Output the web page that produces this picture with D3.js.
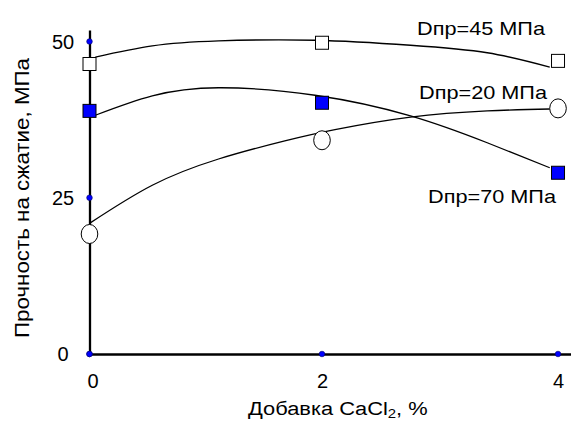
<!DOCTYPE html>
<html>
<head>
<meta charset="utf-8">
<script src="https://cdn.jsdelivr.net/npm/d3@7"></script>
<style>
  body { margin: 0; background: #fff; }
  text { font-family: Arial, "Liberation Sans", sans-serif; fill: #000; }
</style>
</head>
<body>
<div id="chart"></div>
<script>
/* DATA */
const xValues = [0, 2, 4];
const xTicks = [0, 2, 4];
const yTicks = [0, 25, 50];

// measured points
const pts45 = [46.4, 49.8, 46.9];
const pts70 = [38.9, 40.2, 29.0];
const pts20 = [19.2, 34.2, 39.3];

// smoothed trend curves
const curveX = [0.05, 0.54, 1.11, 1.94, 2.75, 3.40, 3.93];
const curve45 = [47.5, 49.3, 50.1, 50.2, 49.4, 48.2, 45.9];
const curve70 = [38.2, 41.3, 42.6, 41.4, 38.1, 33.8, 29.8];
const curve20x = [0.0, 0.54, 1.11, 1.68, 2.11, 2.75, 3.40, 3.93];
const curve20 = [20.9, 27.0, 31.2, 34.1, 35.9, 37.9, 38.9, 39.2];

const labels = ["Dпр=45 МПа", "Dпр=20 МПа", "Dпр=70 МПа"];

/* CONSTANTS */
const width = 571;
const height = 422;

const svg = d3.select("#chart")
  .append("svg")
  .attr("width", width)
  .attr("height", height);

// SCALES
const xScale = d3.scaleLinear()
  .domain([0, 2, 4.11])
  .range([89.5, 322, 571]);

const yScale = d3.scaleLinear()
  .domain([0, 51.84])
  .range([354, 30]);

// AXES
const yAxisGroup = svg.append("g")
  .attr("transform", `translate(${xScale(0)},0)`)
  .call(d3.axisLeft(yScale).tickValues(yTicks).tickFormat(d3.format("d"))
    .tickSize(0).tickPadding(0));

const xAxisGroup = svg.append("g")
  .attr("transform", `translate(0,${yScale(0)})`)
  .call(d3.axisBottom(xScale).tickValues(xTicks).tickFormat(d3.format("d"))
    .tickSize(0).tickPadding(0));

[yAxisGroup, xAxisGroup].forEach(g => {
  g.select(".domain").attr("stroke", "#000").attr("stroke-width", 2.3);
  g.selectAll("text")
    .style("font-family", 'Arial, "Liberation Sans", sans-serif')
    .style("font-size", "20px")
    .attr("fill", "#000");
});

yAxisGroup.selectAll("text")
  .attr("text-anchor", "middle")
  .attr("x", -26.5)
  .attr("dy", "0.33em");

xAxisGroup.selectAll("text")
  .attr("x", d => d === 0 ? 3 : 0)
  .attr("y", 34)
  .attr("dy", 0);

// tick dots
svg.append("g").selectAll("circle")
  .data(yTicks)
  .join("circle")
    .attr("cx", xScale(0))
    .attr("cy", d => yScale(d))
    .attr("r", 2.8)
    .attr("fill", "#0000ff")
    .attr("stroke", "#000066")
    .attr("stroke-width", 0.6);

svg.append("g").selectAll("circle")
  .data(xTicks)
  .join("circle")
    .attr("cx", d => xScale(d))
    .attr("cy", yScale(0))
    .attr("r", 2.8)
    .attr("fill", "#0000ff")
    .attr("stroke", "#000066")
    .attr("stroke-width", 0.6);

// CURVES
const line = d3.line()
  .x(d => xScale(d[0]))
  .y(d => yScale(d[1]))
  .curve(d3.curveNatural);

const curves = [
  d3.zip(curveX, curve45),
  d3.zip(curveX, curve70),
  d3.zip(curve20x, curve20)
];

svg.append("g").selectAll("path")
  .data(curves)
  .join("path")
    .attr("d", line)
    .attr("fill", "none")
    .attr("stroke", "#000")
    .attr("stroke-width", 1.3);

// MARKERS
const sq = 13;

svg.append("g").selectAll("rect")
  .data(d3.zip(xValues, pts45))
  .join("rect")
    .attr("x", d => xScale(d[0]) - sq / 2)
    .attr("y", d => yScale(d[1]) - sq / 2)
    .attr("width", sq)
    .attr("height", sq)
    .attr("fill", "#fff")
    .attr("stroke", "#000")
    .attr("stroke-width", 1);

svg.append("g").selectAll("rect")
  .data(d3.zip(xValues, pts70))
  .join("rect")
    .attr("x", d => xScale(d[0]) - sq / 2)
    .attr("y", d => yScale(d[1]) - sq / 2)
    .attr("width", sq)
    .attr("height", sq)
    .attr("fill", "#0000ff")
    .attr("stroke", "#000")
    .attr("stroke-width", 1);

svg.append("g").selectAll("ellipse")
  .data(d3.zip(xValues, pts20))
  .join("ellipse")
    .attr("cx", d => xScale(d[0]))
    .attr("cy", d => yScale(d[1]))
    .attr("rx", 8.3)
    .attr("ry", 9.5)
    .attr("fill", "#fff")
    .attr("stroke", "#000")
    .attr("stroke-width", 1);

// SERIES LABELS
const labelPos = [[417, 35], [419, 99], [428, 203]];

svg.append("g").selectAll("text")
  .data(labels)
  .join("text")
    .attr("x", (d, i) => labelPos[i][0])
    .attr("y", (d, i) => labelPos[i][1])
    .attr("textLength", 128)
    .attr("lengthAdjust", "spacingAndGlyphs")
    .style("font-size", "19px")
    .text(d => d);

// AXIS TITLES
const xTitle = svg.append("text")
  .attr("transform", "translate(248,415) scale(1.15,1)")
  .style("font-size", "19px");
xTitle.append("tspan").text("Добавка CaCl");
xTitle.append("tspan").attr("dy", 3).style("font-size", "13px").text("2");
xTitle.append("tspan").attr("dy", -3).text(", %");

svg.append("text")
  .attr("transform", "translate(29,198) rotate(-90)")
  .attr("text-anchor", "middle")
  .attr("textLength", 280)
  .attr("lengthAdjust", "spacingAndGlyphs")
  .style("font-size", "20px")
  .text("Прочность на сжатие, МПа");
</script>
</body>
</html>
